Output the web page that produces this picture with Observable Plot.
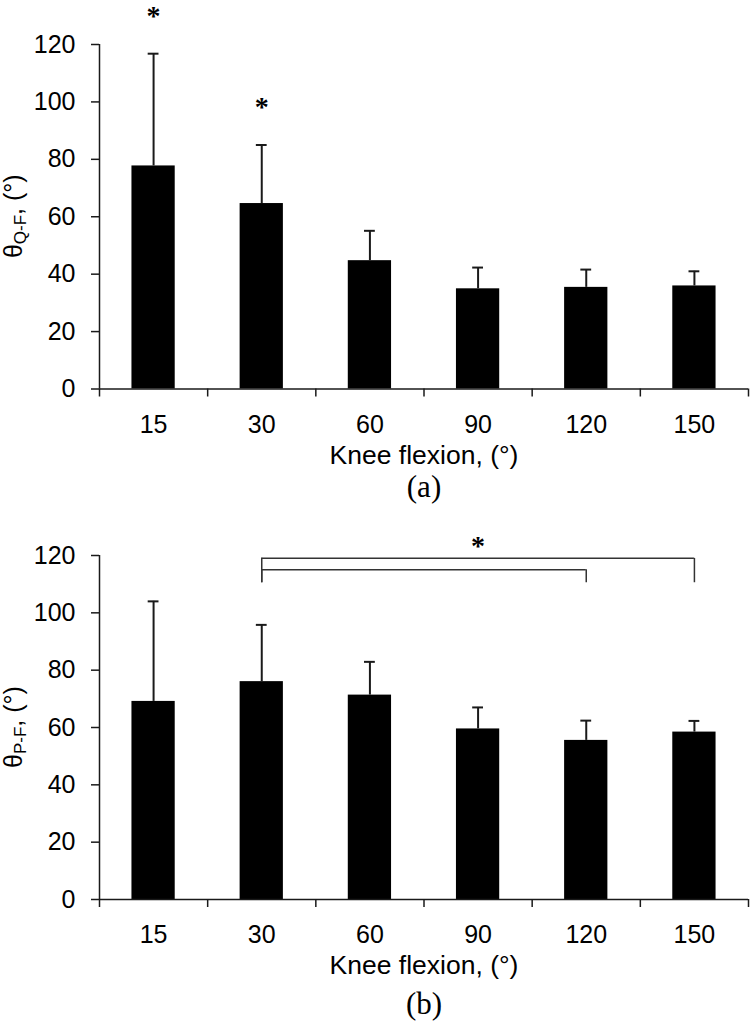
<!DOCTYPE html>
<html><head><meta charset="utf-8">
<script src="https://cdn.jsdelivr.net/npm/d3@7"></script>
<script src="https://cdn.jsdelivr.net/npm/@observablehq/plot@0.6"></script>
<style>
body{margin:0;background:#fff;}
#chart{width:750px;}
#chart svg{display:block;overflow:visible;}
</style></head><body><div id="chart"></div>
<script>
// ---- data ----
const categories = ["15", "30", "60", "90", "120", "150"];
const thetaQF    = [77.7, 64.6, 44.7, 34.9, 35.4, 35.9];
const thetaQF_sd = [39.1, 20.4, 10.4, 7.4, 6.2, 5.1];
const thetaPF    = [69.1, 76.0, 71.3, 59.5, 55.5, 58.4];
const thetaPF_sd = [34.9, 19.8, 11.6, 7.5, 6.9, 3.9];
const sigQF = ["15", "30"];
const comparisonsPF = [
  {from: "30", to: "120", level: 115, base: 110.5},
  {from: "30", to: "150", level: 119, base: 110.5}
];
const yTicks = [0, 20, 40, 60, 80, 100, 120];
const xLabel = "Knee flexion, (°)";

const INK = "#1a1a1a";
const pos = c => categories.indexOf(c) + 0.5;

function panel({values, sds, sig, comparisons, height, marginTop, marginBottom, sub, tag, tagDy}) {
  const rows = categories.map((c, i) => ({c, i, v: values[i], top: values[i] + sds[i]}));
  const marks = [
    Plot.rectY(rows, {x1: d => d.i + 0.3, x2: d => d.i + 0.7, y: "v", fill: "#000"}),
    Plot.ruleX(rows, {x: d => d.i + 0.5, y1: "v", y2: "top", stroke: INK, strokeWidth: 2}),
    Plot.ruleY(rows, {y: "top", x1: d => d.i + 0.45, x2: d => d.i + 0.55, stroke: INK, strokeWidth: 2}),
    Plot.ruleX([0], {y1: 0, y2: 120, stroke: INK, strokeWidth: 1.5}),
    Plot.ruleY([0], {stroke: INK, strokeWidth: 1.5}),
    Plot.axisY({ticks: yTicks, tickSize: 8, tickPadding: 16, stroke: INK, strokeWidth: 1.5, label: null, fill: "#000"}),
    Plot.axisX({ticks: d3.range(0, 7), tickSize: 8, tickFormat: () => "", stroke: INK, strokeWidth: 1.5, label: null}),
    Plot.axisX({ticks: categories.map((c, i) => i + 0.5), tickSize: 0, tickPadding: 26,
      tickFormat: d => categories[Math.floor(d)], label: null, fill: "#000"}),
    Plot.text([xLabel], {frameAnchor: "bottom", dy: 74.5, fill: "#000", fontSize: 26.5}),
    Plot.text([tag], {frameAnchor: "bottom", dy: tagDy, fill: "#000", fontSize: 31, fontFamily: "Liberation Serif, Times New Roman, serif"})
  ];
  if (sig) {
    marks.push(Plot.text(rows.filter(d => sig.includes(d.c)), {
      x: d => d.i + 0.5, y: "top", text: () => "*", dy: -38,
      fontSize: 28, fontWeight: "bold", fill: "#000", fontFamily: "Liberation Serif, Times New Roman, serif"}));
  }
  if (comparisons) {
    marks.push(
      Plot.ruleY(comparisons, {y: "level", x1: d => pos(d.from), x2: d => pos(d.to), stroke: "#333", strokeWidth: 1.5}),
      Plot.ruleX(comparisons, {x: d => pos(d.from), y1: "level", y2: "base", stroke: "#333", strokeWidth: 1.5}),
      Plot.ruleX(comparisons, {x: d => pos(d.to), y1: "level", y2: "base", stroke: "#333", strokeWidth: 1.5}),
      Plot.text(comparisons.filter(d => d.level === d3.max(comparisons, e => e.level)), {
        x: d => (pos(d.from) + pos(d.to)) / 2, y: "level", text: () => "*", dy: -12,
        fontSize: 28, fontWeight: "bold", fill: "#000", fontFamily: "Liberation Serif, Times New Roman, serif"})
    );
  }
  const svg = Plot.plot({
    width: 750, height, marginLeft: 99, marginRight: 2, marginTop, marginBottom,
    x: {domain: [0, 6]},
    y: {domain: [0, 120]},
    style: {fontFamily: "Liberation Sans, Arial, sans-serif", fontSize: "25px", color: "#000", background: "#fff", overflow: "visible"},
    marks
  });
  const cy = (marginTop + (height - marginBottom)) / 2;
  const t = d3.select(svg).append("text")
    .attr("transform", `translate(22,${cy}) rotate(-90)`)
    .attr("text-anchor", "middle")
    .attr("font-family", "Liberation Sans, Arial, sans-serif")
    .attr("font-size", 25).attr("fill", "#000");
  t.append("tspan").text("θ");
  t.append("tspan").attr("font-size", 17).attr("dy", 4).text(sub);
  t.append("tspan").attr("dy", -4).text(", (°)");
  return svg;
}

const chart = document.getElementById("chart");
chart.append(panel({values: thetaQF, sds: thetaQF_sd, sig: sigQF, height: 530, marginTop: 44, marginBottom: 141.5, sub: "Q-F", tag: "(a)", tagDy: 108}));
chart.append(panel({values: thetaPF, sds: thetaPF_sd, comparisons: comparisonsPF, height: 502, marginTop: 25, marginBottom: 133, sub: "P-F", tag: "(b)", tagDy: 114}));
</script></body></html>
